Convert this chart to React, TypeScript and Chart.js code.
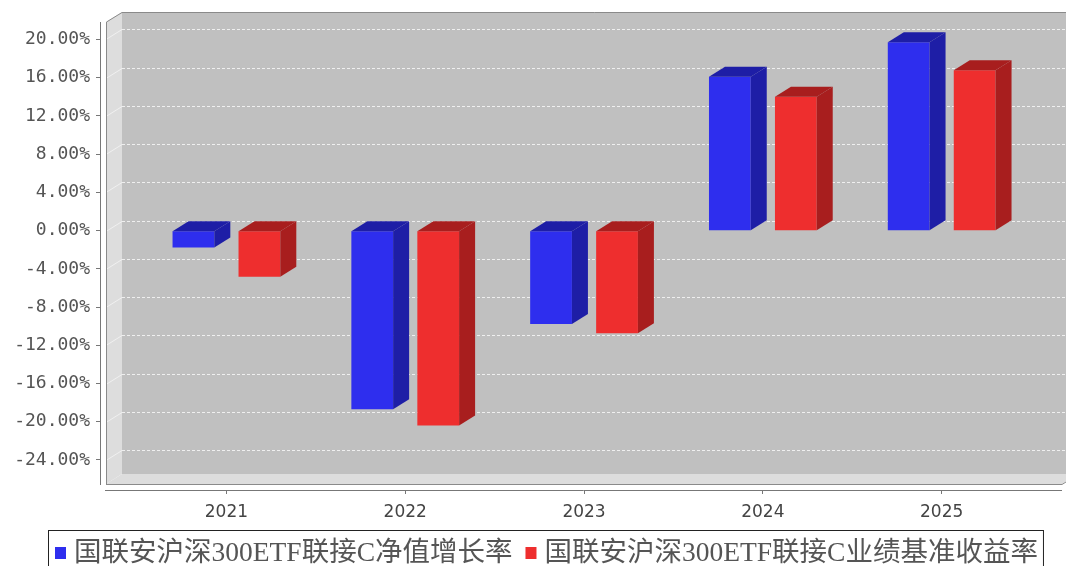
import React, { useEffect, useRef } from 'react';
import { Chart, registerables } from 'chart.js';

Chart.register(...registerables);

// ---- data ----
const years = ['2021', '2022', '2023', '2024', '2025'];
const navGrowth = [-1.76, -18.7, -9.78, 16.09, 19.72];
const benchmarkReturn = [-4.83, -20.4, -10.75, 14.0, 16.79];
const seriesNames = ['国联安沪深300ETF联接C净值增长率', '国联安沪深300ETF联接C业绩基准收益率'];
const yTickValues = [-24, -20, -16, -12, -8, -4, 0, 4, 8, 12, 16, 20];

// ---- styles ----
const frontColors = ['#2e2eee', '#ee2e2e'];
const shadeColors = ['#1e1ea6', '#a81e1e'];
const Y_MIN = -27.14;
const Y_MAX = 21.83;
const X_MIN = -0.707;
const X_MAX = 4.673;
const DX = 16;
const DY = 10;
const AXIS_GAP = 6;

function poly(ctx: CanvasRenderingContext2D, pts: number[][]) {
  ctx.beginPath();
  ctx.moveTo(pts[0][0], pts[0][1]);
  for (let i = 1; i < pts.length; i++) ctx.lineTo(pts[i][0], pts[i][1]);
  ctx.closePath();
  ctx.fill();
}

function line(ctx: CanvasRenderingContext2D, x1: number, y1: number, x2: number, y2: number) {
  ctx.beginPath();
  ctx.moveTo(x1, y1);
  ctx.lineTo(x2, y2);
  ctx.stroke();
}

const threeD = {
  id: 'threeD',
  beforeDatasetsDraw(chart: any) {
    const { ctx, chartArea: a } = chart;
    const y = chart.scales.y;
    const fl = a.left + AXIS_GAP;
    const fb = a.bottom - AXIS_GAP;
    const ft = a.top;
    const fr = a.right;
    const bl = fl + DX;
    const bt = ft - DY;
    const bb = fb - DY;
    const br = fr + DX;
    ctx.save();
    // back wall
    ctx.fillStyle = '#c0c0c0';
    ctx.fillRect(bl, bt, br - bl, bb - bt);
    // left wall and floor
    ctx.fillStyle = '#dddddd';
    poly(ctx, [[fl, ft], [bl, bt], [bl, bb], [fl, fb]]);
    poly(ctx, [[fl, fb], [bl, bb], [br, bb], [fr, fb]]);
    // grid lines on back wall
    ctx.lineWidth = 1;
    ctx.strokeStyle = 'rgba(255,255,255,0.75)';
    ctx.setLineDash([3, 2]);
    y.ticks.forEach((t: any) => {
      const py = Math.round(y.getPixelForValue(t.value)) - DY + 0.5;
      line(ctx, bl, py, br, py);
    });
    ctx.setLineDash([]);
    ctx.strokeStyle = 'rgba(255,255,255,0.55)';
    y.ticks.forEach((t: any) => {
      const py = Math.round(y.getPixelForValue(t.value)) + 0.5;
      line(ctx, fl, py, bl, py - DY);
    });
    // outline
    ctx.strokeStyle = '#8a8a8a';
    ctx.beginPath();
    ctx.moveTo(fl + 0.5, fb);
    ctx.lineTo(fl + 0.5, ft);
    ctx.lineTo(bl, bt + 0.5);
    ctx.lineTo(br, bt + 0.5);
    ctx.stroke();
    ctx.beginPath();
    ctx.moveTo(fl, fb + 0.5);
    ctx.lineTo(fr, fb + 0.5);
    ctx.lineTo(br, bb + 0.5);
    ctx.stroke();
    // axis lines
    ctx.strokeStyle = '#777';
    line(ctx, a.left + 0.5, ft, a.left + 0.5, fb + 1);
    line(ctx, fl - 1, a.bottom + 0.5, fr, a.bottom + 0.5);
    ctx.restore();
  },
  afterDatasetsDraw(chart: any) {
    const { ctx } = chart;
    ctx.save();
    chart.data.datasets.forEach((_ds: any, di: number) => {
      const meta = chart.getDatasetMeta(di);
      meta.data.forEach((bar: any) => {
        const { x, y, base, width } = bar.getProps(['x', 'y', 'base', 'width'], true);
        const x0 = x - width / 2;
        const x1 = x + width / 2;
        const top = Math.min(y, base);
        const bottom = Math.max(y, base);
        ctx.fillStyle = shadeColors[di];
        poly(ctx, [[x0, top], [x0 + DX, top - DY], [x1 + DX, top - DY], [x1, top]]);
        poly(ctx, [[x1, top], [x1 + DX, top - DY], [x1 + DX, bottom - DY], [x1, bottom]]);
      });
    });
    ctx.restore();
  },
  afterDraw(chart: any) {
    const { ctx } = chart;
    ctx.save();
    ctx.font = '27.5px "Liberation Serif", "Noto Sans CJK SC"';
    ctx.textBaseline = 'middle';
    ctx.textAlign = 'left';
    const cy = 553;
    let x = 55;
    const boxL = 48;
    const boxT = 530;
    seriesNames.forEach((name, i) => {
      ctx.fillStyle = frontColors[i];
      ctx.fillRect(x, cy - 6, 11, 12);
      ctx.fillStyle = '#555';
      const w = ctx.measureText(name).width;
      ctx.fillText(name, x + 19, cy + 1);
      x = x + 19 + w + 13;
    });
    const boxR = x - 13 + 5;
    ctx.strokeStyle = '#222';
    ctx.lineWidth = 1;
    ctx.strokeRect(boxL + 0.5, boxT + 0.5, boxR - boxL, 44);
    ctx.restore();
  },
};

export default function App() {
  const ref = useRef<HTMLCanvasElement | null>(null);
  useEffect(() => {
    document.body.style.margin = '0';
    const canvas = ref.current;
    if (!canvas) return;
    const chart = new Chart(canvas, {
      type: 'bar',
      data: {
        datasets: [
          {
            label: seriesNames[0],
            data: years.map((_, i) => ({ x: i, y: navGrowth[i] })),
            backgroundColor: frontColors[0],
            borderWidth: 0,
          },
          {
            label: seriesNames[1],
            data: years.map((_, i) => ({ x: i, y: benchmarkReturn[i] })),
            backgroundColor: frontColors[1],
            borderWidth: 0,
          },
        ],
      },
      options: {
        responsive: false,
        animation: false,
        events: [],
        layout: { padding: { top: 22, right: 4, bottom: 0, left: 0 } },
        datasets: { bar: { categoryPercentage: 0.738, barPercentage: 0.633 } },
        plugins: { legend: { display: false }, tooltip: { enabled: false }, title: { display: false } },
        scales: {
          x: {
            type: 'linear',
            min: X_MIN,
            max: X_MAX,
            bounds: 'data',
            offset: false,
            border: { display: false },
            grid: { drawOnChartArea: false, tickLength: 4, color: '#777', offset: false },
            afterBuildTicks: (s: any) => {
              s.ticks = years.map((_, i) => ({ value: i }));
            },
            ticks: {
              autoSkip: false,
              maxRotation: 0,
              padding: 8,
              color: '#444',
              font: { family: 'DejaVu Sans', size: 17 },
              callback: (v: any) => years[Math.round(Number(v))] ?? '',
            },
            afterFit: (s: any) => {
              s.height = 76;
            },
          } as any,
          y: {
            type: 'linear',
            min: Y_MIN,
            max: Y_MAX,
            bounds: 'data',
            border: { display: false },
            grid: { drawOnChartArea: false, tickLength: 4, color: '#777' },
            afterBuildTicks: (s: any) => {
              s.ticks = yTickValues.map((v) => ({ value: v }));
            },
            ticks: {
              autoSkip: false,
              padding: 6,
              color: '#555',
              font: { family: 'DejaVu Sans Mono', size: 18 },
              callback: (v: any) => Number(v).toFixed(2) + '%',
            },
            afterFit: (s: any) => {
              s.width = 100;
            },
          } as any,
        },
      },
      plugins: [threeD],
    } as any);
    return () => chart.destroy();
  }, []);
  return <canvas ref={ref} width={1066} height={566} style={{ display: 'block', width: 1066, height: 566 }} />;
}
